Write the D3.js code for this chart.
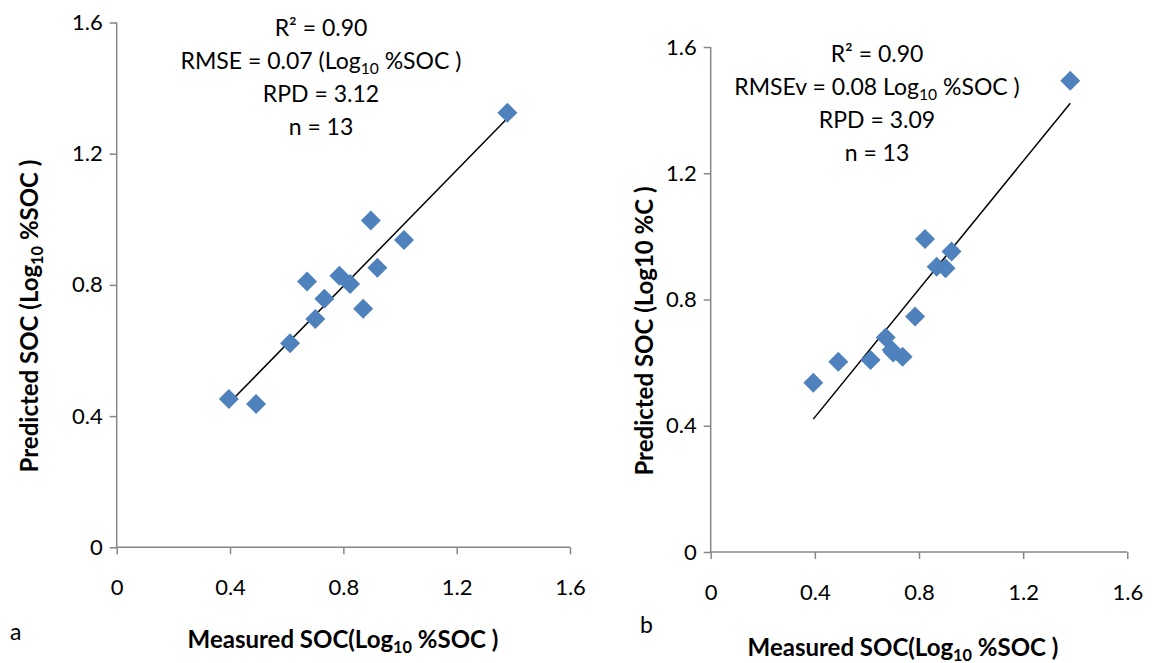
<!DOCTYPE html>
<html>
<head>
<meta charset="utf-8">
<script src="https://cdn.jsdelivr.net/npm/d3@7"></script>
<style>
  body { margin: 0; background: #fff; }
  text { font-family: Lato, "Open Sans", sans-serif; fill: #000; }
</style>
</head>
<body>
<script>
// data
var ticks = [0, 0.4, 0.8, 1.2, 1.6];

var measuredA  = [0.396, 0.492, 0.612, 0.701, 0.733, 0.672, 0.786, 0.824, 0.870, 0.920, 0.897, 1.014, 1.379];
var predictedA = [0.452, 0.437, 0.622, 0.696, 0.758, 0.810, 0.828, 0.803, 0.727, 0.852, 0.996, 0.937, 1.325];
var trendA = [[0.396, 0.439], [1.379, 1.308]];

var measuredB  = [0.394, 0.490, 0.614, 0.672, 0.701, 0.695, 0.737, 0.785, 0.823, 0.868, 0.902, 0.925, 1.381];
var predictedB = [0.536, 0.603, 0.608, 0.680, 0.632, 0.640, 0.619, 0.746, 0.992, 0.904, 0.899, 0.952, 1.493];
var trendB = [[0.394, 0.421], [1.381, 1.422]];

// text lines: each part is [string, isSubscript]
var statsA = [
  [["R² = 0.90", false]],
  [["RMSE = 0.07 (Log", false], ["10", true], [" %SOC )", false]],
  [["RPD = 3.12", false]],
  [["n = 13", false]]
];
var statsB = [
  [["R² = 0.90", false]],
  [["RMSEv = 0.08 Log", false], ["10", true], [" %SOC )", false]],
  [["RPD = 3.09", false]],
  [["n = 13", false]]
];
var xTitle = [["Measured SOC(Log", false], ["10", true], [" %SOC )", false]];
var yTitleA = [["Predicted SOC (Log", false], ["10", true], [" %SOC )", false]];
var yTitleB = [["Predicted SOC (Log10 %C )", false]];

var W = 1152, H = 663;
var svg = d3.select("body").append("svg")
  .attr("width", W)
  .attr("height", H);

function richText(sel, parts) {
  parts.forEach(function(p, i) {
    var t = sel.append("tspan").text(p[0]);
    if (p[1]) t.attr("font-size", "0.68em").attr("dy", "0.3em");
    else if (i > 0 && parts[i - 1][1]) t.attr("dy", "-0.2em");
  });
}

function drawPanel(p) {
  var x = d3.scaleLinear().domain([0, 1.6]).range([p.left, p.right]);
  var y = d3.scaleLinear().domain([0, 1.6]).range([p.bottom, p.top]);
  var g = svg.append("g");

  var xAxis = g.append("g")
    .attr("transform", "translate(0," + p.bottom + ")")
    .call(d3.axisBottom(x).tickValues(ticks).tickSize(7).tickFormat(d3.format("")));
  var yAxis = g.append("g")
    .attr("transform", "translate(" + p.left + ",0)")
    .call(d3.axisLeft(y).tickValues(ticks).tickSize(7).tickFormat(d3.format("")));

  [xAxis, yAxis].forEach(function(a) {
    a.select(".domain").attr("stroke", "#878787").attr("stroke-width", 1.5)
      .attr("d", a === xAxis ? "M" + p.left + ",0H" + p.right : "M0," + p.bottom + "V" + p.top);
    a.selectAll(".tick line").attr("stroke", "#878787").attr("stroke-width", 1.5);
    a.selectAll(".tick text").attr("fill", "#000").attr("font-size", 22)
      .attr("font-family", "Lato, sans-serif");
  });
  xAxis.selectAll(".tick text").attr("y", 32);
  yAxis.selectAll(".tick text").attr("x", -14);

  // trend line
  g.append("line")
    .attr("x1", x(p.trend[0][0])).attr("y1", y(p.trend[0][1]))
    .attr("x2", x(p.trend[1][0])).attr("y2", y(p.trend[1][1]))
    .attr("stroke", "#000").attr("stroke-width", 1.5);

  // diamonds
  var pts = p.xs.map(function(v, i) { return [v, p.ys[i]]; });
  g.selectAll("path.pt").data(pts).enter().append("path")
    .attr("class", "pt")
    .attr("d", d3.symbol().type(d3.symbolSquare).size(200))
    .attr("fill", "#4F81BD")
    .attr("transform", function(d) {
      return "translate(" + x(d[0]) + "," + y(d[1]) + ") rotate(45)";
    });

  // stats block
  p.stats.forEach(function(line, i) {
    var t = g.append("text")
      .attr("x", p.statsX).attr("y", p.statsY + i * 33)
      .attr("text-anchor", "middle")
      .attr("font-size", 23);
    richText(t, line);
  });

  // axis titles
  var xt = g.append("text")
    .attr("x", p.xTitleX).attr("y", p.xTitleY)
    .attr("text-anchor", "middle").attr("font-size", 24).attr("font-weight", "bold");
  richText(xt, xTitle);

  var yt = g.append("text")
    .attr("transform", "translate(" + p.yTitleX + "," + p.yTitleY + ") rotate(-90)")
    .attr("text-anchor", "middle").attr("font-size", 24).attr("font-weight", "bold");
  richText(yt, p.yTitle);

  g.append("text")
    .attr("x", p.tagX).attr("y", p.tagY)
    .attr("font-size", 23)
    .text(p.tag);
}

drawPanel({
  left: 116.7, right: 570, top: 22.5, bottom: 547.3,
  xs: measuredA, ys: predictedA, trend: trendA, stats: statsA,
  statsX: 321, statsY: 36,
  xTitleX: 343, xTitleY: 648,
  yTitle: yTitleA, yTitleX: 38, yTitleY: 316,
  tag: "a", tagX: 10, tagY: 640
});

drawPanel({
  left: 710.7, right: 1127.3, top: 47, bottom: 552,
  xs: measuredB, ys: predictedB, trend: trendB, stats: statsB,
  statsX: 877, statsY: 62,
  xTitleX: 903, xTitleY: 656,
  yTitle: yTitleB, yTitleX: 653, yTitleY: 331,
  tag: "b", tagX: 640, tagY: 633
});
</script>
</body>
</html>
